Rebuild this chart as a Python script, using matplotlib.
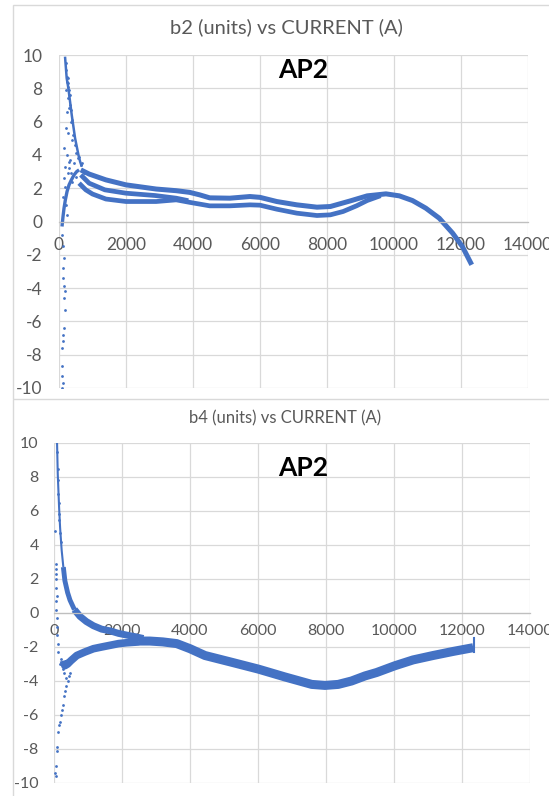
import matplotlib
matplotlib.use("Agg")
import matplotlib.pyplot as plt
from matplotlib.patches import Rectangle
from matplotlib.lines import Line2D

plt.rcParams['font.family'] = ['Lato', 'DejaVu Sans']
plt.rcParams['axes.unicode_minus'] = False

# ---------------- data ----------------
x_ticks = [0, 2000, 4000, 6000, 8000, 10000, 12000, 14000]
y_ticks = [-10, -8, -6, -4, -2, 0, 2, 4, 6, 8, 10]

title_top = "b2 (units) vs CURRENT (A)"
title_bot = "b4 (units) vs CURRENT (A)"
tag = "AP2"

# b2 : upper, middle and lower ramp branches
b2_upper_x = [650, 900, 1400, 2000, 2900, 3500, 3900, 4200, 4500, 5100, 5700, 6000, 6500,
              7100, 7700, 8100, 8700, 9200, 9760, 10160, 10550, 10950, 11350, 11750, 12040, 12320]
b2_upper_y = [3.1, 2.85, 2.5, 2.2, 1.95, 1.85, 1.75, 1.6, 1.42, 1.4, 1.5, 1.45, 1.2,
              1.0, 0.86, 0.9, 1.24, 1.54, 1.66, 1.54, 1.26, 0.8, 0.2, -0.7, -1.5, -2.6]
b2_middle_x = [650, 900, 1370, 2000, 2870, 3500, 3860]
b2_middle_y = [2.8, 2.3, 1.9, 1.7, 1.56, 1.4, 1.25]
b2_lower_x = [600, 800, 1000, 1400, 2000, 2900, 3500, 3900, 4500, 5100, 5700, 6000, 6500,
              7100, 7700, 8100, 8480, 8880, 9200, 9600]
b2_lower_y = [2.3, 1.9, 1.65, 1.35, 1.2, 1.2, 1.3, 1.15, 0.94, 0.94, 1.0, 0.98, 0.74,
              0.5, 0.36, 0.4, 0.6, 0.94, 1.26, 1.55]
b2_spike_x = [180, 230, 280, 330, 380, 430, 480, 530, 580, 630, 680]
b2_spike_y = [9.9, 8.6, 8.0, 7.2, 6.4, 5.7, 5.0, 4.5, 4.0, 3.6, 3.3]
b2_rise_x = [90, 120, 150, 190, 240, 300, 370, 450, 530, 600]
b2_rise_y = [-0.3, 0.3, 0.8, 1.3, 1.8, 2.2, 2.5, 2.8, 3.0, 3.1]
b2_scatter_x = [100, 120, 140, 110, 130, 150, 170, 160, 180, 140, 110, 120, 100, 90, 95, 105, 85,
                200, 220, 250, 260, 210, 280, 300, 320, 240, 350, 200, 270, 380, 160, 230, 330,
                190, 260, 150, 175, 130, 210, 240, 290, 310, 350, 400, 450, 500,
                240, 270, 300, 260, 330, 290, 360, 400, 420, 470, 520, 560, 600, 650, 700, 750]
b2_scatter_y = [-0.8, -1.5, -2.2, -2.8, -3.4, -3.9, -4.2, -4.6, -5.3, -6.4, -6.8, -7.2, -7.6, -8.7, -9.3, -9.7, -10.0,
                9.5, 9.1, 8.7, 8.3, 7.9, 8.1, 7.6, 7.0, 6.6, 6.0, 5.6, 5.3, 4.9, 4.4, 4.0, 3.7,
                3.3, 2.9, 2.6, 2.1, 1.5, 1.0, 0.4, 3.6, 3.2, 2.9, 2.4, 3.5, 2.7,
                8.4, 8.6, 7.9, 7.4, 7.6, 6.8, 6.7, 6.1, 5.2, 4.6, 4.1, 3.8, 3.9, 3.4, 3.5, 2.9]

# b4 : descending branch, rising branch, merged band
b4_upper_x = [90, 110, 130, 150, 180, 225, 275, 320, 400, 470, 600, 765, 950, 1160, 1400,
              1650, 1900, 2140, 2400, 2630]
b4_upper_y = [10.0, 8.2, 7.2, 6.2, 5.0, 3.7, 2.7, 1.9, 1.2, 0.76, 0.2, -0.2, -0.5, -0.75, -0.95,
              -1.05, -1.2, -1.3, -1.4, -1.5]
b4_lower_x = [280, 320, 400, 500, 670, 900, 1160, 1400, 1650, 1900, 2140, 2500]
b4_lower_y = [-2.8, -3.1, -3.0, -2.8, -2.5, -2.3, -2.1, -2.0, -1.9, -1.8, -1.75, -1.7]
b4_main_x = [2500, 2820, 3200, 3610, 4000, 4440, 5230, 6010, 6790, 7580, 7970, 8360, 8750,
             9150, 9490, 10030, 10560, 11150, 11740, 12330]
b4_main_y = [-1.65, -1.65, -1.7, -1.8, -2.1, -2.5, -2.9, -3.3, -3.76, -4.2, -4.26, -4.2, -4.0,
             -3.7, -3.5, -3.1, -2.76, -2.5, -2.26, -2.04]
b4_end_x = [12350, 12350]
b4_end_y = [-2.3, -1.45]
b4_scatter_x = [40, 60, 50, 70, 45, 55, 80, 65, 70, 90, 75, 100, 110, 120,
                30, 60, 50, 80, 100, 130, 150, 175, 200, 230, 260, 290, 320, 360, 400, 440, 470,
                250, 300, 350, 200, 180,
                95, 105, 115, 125, 135, 140, 160, 170, 200]
b4_scatter_y = [4.8, 2.9, 2.6, 2.3, 2.0, 1.5, 1.0, 0.7, 0.2, -0.3, -0.8, -1.3, -1.8, -2.3,
                -9.4, -9.6, -9.0, -8.1, -7.9, -7.0, -6.6, -6.4, -6.0, -5.7, -5.4, -4.9, -4.6, -4.3, -4.0, -3.7, -3.5,
                -3.3, -3.5, -3.8, -2.7, -3.0,
                9.5, 8.5, 7.8, 7.0, 6.5, 5.8, 5.5, 4.7, 4.2]

# ---------------- figure ----------------
W, H = 549, 796
BLUE = '#4472C4'
GRID = '#d9d9d9'
TXT = '#595959'

fig = plt.figure(figsize=(W / 100, H / 100), dpi=100)


def box(l, t, r, b):
    return [l / W, 1 - b / H, (r - l) / W, (b - t) / H]


def style(ax, fs, xpad, ypad):
    ax.set_xlim(0, 14000)
    ax.set_ylim(-10, 10)
    ax.set_xticks(x_ticks)
    ax.set_yticks(y_ticks)
    ax.set_xticklabels([str(v) for v in x_ticks])
    ax.set_yticklabels([str(v) for v in y_ticks])
    ax.grid(True, color=GRID, lw=0.9)
    ax.set_axisbelow(True)
    for s in ['top', 'right', 'left']:
        ax.spines[s].set_visible(False)
    ax.spines['bottom'].set_position(('data', 0))
    ax.spines['bottom'].set_color('#bfbfbf')
    ax.spines['bottom'].set_linewidth(0.9)
    ax.tick_params(axis='both', length=0, labelsize=fs, labelcolor=TXT)
    ax.tick_params(axis='x', pad=xpad)
    ax.tick_params(axis='y', pad=ypad)
    ax.patch.set_alpha(0)


# frames
fig.add_artist(Rectangle((12.5 / W, 1 - 399 / H), (600 - 12.5) / W, (399 - 5) / H,
                         transform=fig.transFigure, fill=False, ec=GRID, lw=1))
fig.add_artist(Line2D([12.5 / W, 12.5 / W], [0, 1 - 400 / H], transform=fig.transFigure,
                      color=GRID, lw=1))

kw = dict(color=BLUE, solid_capstyle='butt', solid_joinstyle='round')

# ---- top chart ----
ax1 = fig.add_axes(box(59, 55, 528, 388))
style(ax1, 12.5, 11, 12)
ax1.plot(b2_upper_x, b2_upper_y, lw=3.6, **kw)
ax1.plot(b2_middle_x, b2_middle_y, lw=3.4, **kw)
ax1.plot(b2_lower_x, b2_lower_y, lw=3.4, **kw)
ax1.plot(b2_spike_x, b2_spike_y, lw=1.8, **kw)
ax1.plot(b2_rise_x, b2_rise_y, lw=2.4, **kw)
ax1.scatter(b2_scatter_x, b2_scatter_y, s=4, color=BLUE, lw=0)

fig.text(286 / W, 1 - 27 / H, title_top, ha='center', va='center', fontsize=14.5, color=TXT)
fig.text(303 / W, 1 - 70 / H, tag, ha='center', va='center', fontsize=19,
         fontweight='bold', color='black')

# ---- bottom chart ----
ax2 = fig.add_axes(box(54, 443, 530, 783))
style(ax2, 11.5, 8, 11)
ax2.plot(b4_upper_x[:7], b4_upper_y[:7], lw=1.5, **kw)
ax2.plot(b4_upper_x[6:11], b4_upper_y[6:11], lw=3.5, **kw)
ax2.plot(b4_upper_x[10:], b4_upper_y[10:], lw=5.0, **kw)
ax2.plot(b4_lower_x, b4_lower_y, lw=5.5, **kw)
ax2.plot(b4_main_x, b4_main_y, lw=6.5, **kw)
ax2.plot(b4_end_x, b4_end_y, lw=1.5, color=BLUE)
ax2.scatter(b4_scatter_x, b4_scatter_y, s=4, color=BLUE, lw=0)

fig.text(285 / W, 1 - 418 / H, title_bot, ha='center', va='center', fontsize=12, color=TXT)
fig.text(303 / W, 1 - 468 / H, tag, ha='center', va='center', fontsize=19,
         fontweight='bold', color='black')

fig.savefig('out.png', dpi=100)
